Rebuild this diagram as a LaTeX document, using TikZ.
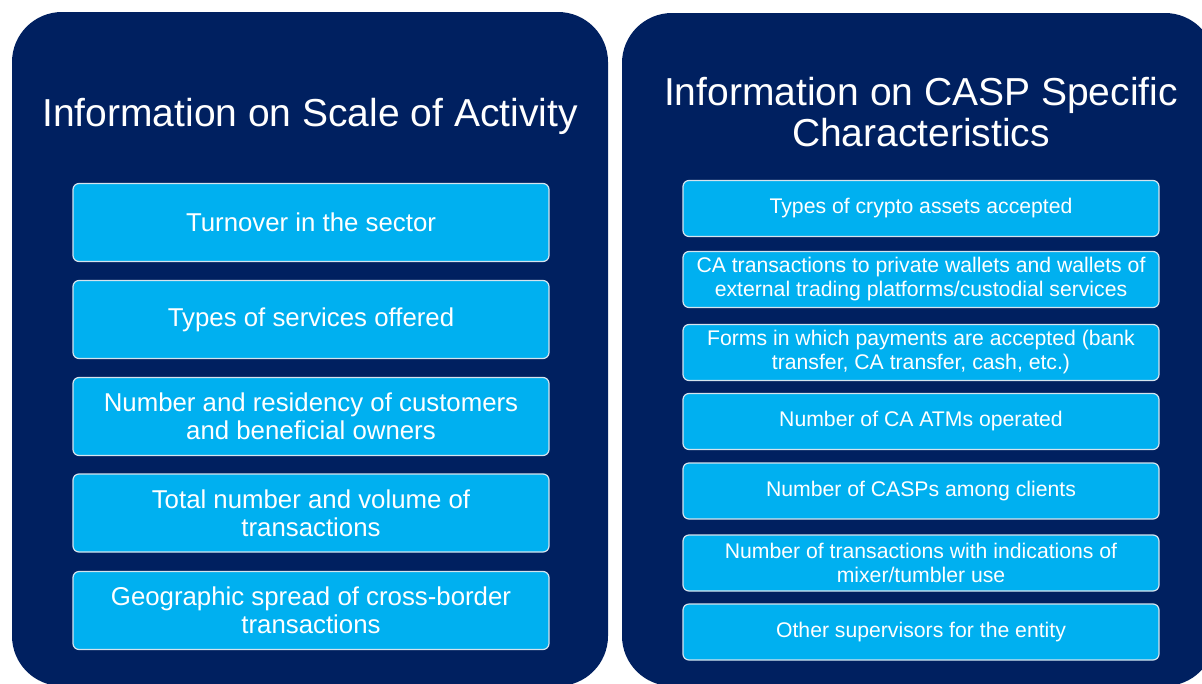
\documentclass[tikz,border=0pt]{standalone}
\usepackage{fontspec}
\setmainfont{Liberation Sans}
\definecolor{navy}{HTML}{002060}
\definecolor{skyb}{HTML}{00B0F0}
\definecolor{edgec}{HTML}{D5E3EE}
\tikzset{
  panel/.style={fill=navy, draw=none, rounded corners=50pt, inner sep=0pt},
  ptitle/.style={text=white, align=center, font=\fontsize{39}{41}\selectfont, inner sep=0pt},
  lbox/.style={fill=skyb, draw=edgec, line width=1.2pt, rounded corners=6pt,
    minimum width=476pt, minimum height=78pt, text=white, align=center,
    font=\fontsize{25.8}{28}\selectfont, inner sep=0pt},
  rbox/.style={fill=skyb, draw=edgec, line width=1.2pt, rounded corners=6pt,
    minimum width=476pt, minimum height=56pt, text=white, align=center,
    font=\fontsize{21.2}{24}\selectfont, inner sep=0pt}
}
\begin{document}
\begin{tikzpicture}[x=1pt,y=-1pt]
\useasboundingbox (0,0) rectangle (1202,683);
\clip (0,0) rectangle (1202,683);
\fill[white] (0,0) rectangle (1202,683);
\node[panel, minimum width=596pt, minimum height=674pt] (pl) at (310,349) {};
\node[panel, minimum width=593pt, minimum height=673pt] (pr) at (918.5,349.5) {};
\node[ptitle] (tl) at (310,116) {Information on Scale of Activity};
\node[ptitle] (tr) at (921,112.5) {Information on CASP Specific\\Characteristics};
\node[lbox] (l1) at (311,222.5) {Turnover in the sector};
\node[lbox] (l2) at (311,319.5) {Types of services offered};
\node[lbox] (l3) at (311,416.5) {Number and residency of customers\\and beneficial owners};
\node[lbox] (l4) at (311,513) {Total number and volume of\\transactions};
\node[lbox] (l5) at (311,610.5) {Geographic spread of cross-border\\transactions};
\node[rbox] (r1) at (921,208.5) {Types of crypto assets accepted};
\node[rbox] (r2) at (921,279.5) {CA transactions to private wallets and wallets of\\external trading platforms/custodial services};
\node[rbox] (r3) at (921,352.5) {Forms in which payments are accepted (bank\\transfer, CA transfer, cash, etc.)};
\node[rbox] (r4) at (921,421.5) {Number of CA ATMs operated};
\node[rbox] (r5) at (921,491) {Number of CASPs among clients};
\node[rbox] (r6) at (921,563) {Number of transactions with indications of\\mixer/tumbler use};
\node[rbox] (r7) at (921,632) {Other supervisors for the entity};
\end{tikzpicture}
\end{document}
